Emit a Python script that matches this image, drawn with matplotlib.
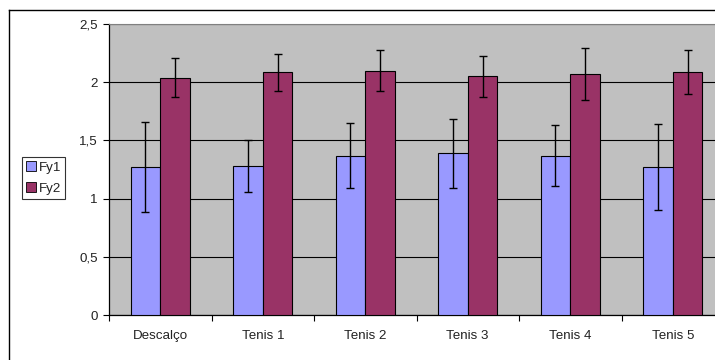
import numpy as np
import matplotlib.pyplot as plt
from matplotlib.patches import Rectangle
from matplotlib.lines import Line2D
from matplotlib.ticker import FuncFormatter

plt.rcParams['font.family'] = ['Liberation Sans', 'DejaVu Sans']

categories = ["Descalço", "Tenis 1", "Tenis 2", "Tenis 3", "Tenis 4", "Tenis 5"]
fy1 = [1.27, 1.28, 1.37, 1.39, 1.37, 1.27]
fy1_err = [0.385, 0.22, 0.277, 0.295, 0.262, 0.372]
fy2 = [2.04, 2.085, 2.10, 2.05, 2.07, 2.085]
fy2_err = [0.166, 0.157, 0.175, 0.179, 0.22, 0.189]

C_FY1 = "#9999FF"
C_FY2 = "#993366"
FS = 9.6

W, H = 715, 360
fig = plt.figure(figsize=(W / 100, H / 100), dpi=100)
ax = fig.add_axes([109 / W, 1 - 315 / H, 615 / W, 291 / H])
ax.set_facecolor("#C0C0C0")

x = np.arange(len(categories))
bw = 0.288
err_kw = dict(ecolor="black", elinewidth=1.0, capsize=3, capthick=1.0)
ax.bar(x - bw / 2, fy1, bw, color=C_FY1, edgecolor="black", lw=0.8,
       yerr=fy1_err, error_kw=err_kw, zorder=3, label="Fy1")
ax.bar(x + bw / 2, fy2, bw, color=C_FY2, edgecolor="black", lw=0.8,
       yerr=fy2_err, error_kw=err_kw, zorder=3, label="Fy2")

ax.set_xlim(-0.5, len(categories) - 0.5)
ax.set_ylim(0, 2.5)
ax.set_yticks(np.arange(0, 2.51, 0.5))
ax.yaxis.set_major_formatter(FuncFormatter(lambda v, p: f"{v:g}".replace(".", ",")))
ax.grid(axis="y", color="black", lw=0.8, zorder=1)
ax.set_axisbelow(True)

ax.set_xticks(x)
ax.set_xticklabels(categories)
ax.set_xticks(np.arange(-0.5, len(categories), 1), minor=True)
ax.tick_params(axis="x", which="major", length=0, pad=11, labelsize=FS, labelcolor="#222222")
ax.tick_params(axis="x", which="minor", length=4, width=0.8, direction="out")
ax.tick_params(axis="y", length=4, width=0.8, direction="out", labelsize=FS, pad=4,
               labelcolor="#222222")

for s in ["left", "bottom"]:
    ax.spines[s].set_color("black")
    ax.spines[s].set_linewidth(0.9)
ax.spines["top"].set_color("#808080")
ax.spines["right"].set_visible(False)

# outer chart frame
fig.add_artist(Line2D([9 / W, 9 / W], [0, 1 - 10 / H], color="black", lw=1.0))
fig.add_artist(Line2D([9 / W, 1], [1 - 10 / H, 1 - 10 / H], color="black", lw=1.0))

leg = fig.legend(handles=[Rectangle((0, 0), 1, 1, fc=C_FY1, ec="black", lw=0.6),
                          Rectangle((0, 0), 1, 1, fc=C_FY2, ec="black", lw=0.6)],
                 labels=["Fy1", "Fy2"], loc="upper left",
                 bbox_to_anchor=(22 / W, 1 - 157 / H), fontsize=FS,
                 frameon=True, fancybox=False, edgecolor="black",
                 handlelength=0.75, handleheight=0.75, handletextpad=0.2,
                 borderpad=0.3, labelspacing=0.65, borderaxespad=0)
leg.get_frame().set_linewidth(0.8)
for t in leg.get_texts():
    t.set_color("#222222")

fig.savefig("out.png", dpi=100)
